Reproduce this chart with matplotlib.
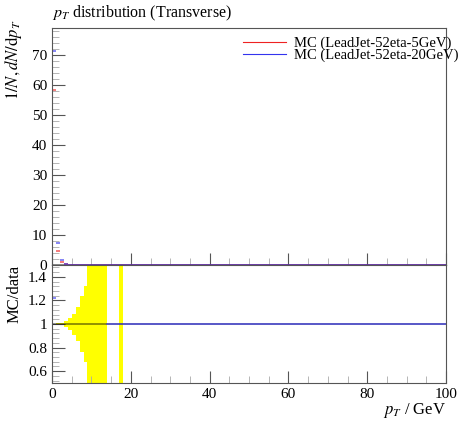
import numpy as np
import matplotlib
matplotlib.use('Agg')
import matplotlib.pyplot as plt
from matplotlib.ticker import MultipleLocator

plt.rcParams['font.family'] = ['Liberation Serif', 'DejaVu Serif']
plt.rcParams['mathtext.fontset'] = 'stix'

# pT bins, 1 GeV wide
bin_edges = np.arange(0, 101, 1)

# MC distributions (non-zero bins only, rest is ~0)
mc_5gev = [58.5, 4.6, 1.0, 0.3, 0.05]
mc_20gev = [71.5, 7.2, 1.7, 0.4, 0.05]

# ratio panel: data error band half-widths per bin (None = no data)
band_halfwidth = [0.003, 0.006, 0.012, 0.022, 0.047, 0.089, 0.144, 0.236, 0.325,
                  1.0, 1.0, 1.0, 1.0, 1.0, None, None, None, 1.0]
# blue MC / ref ratio in first bin
ratio_20gev = [1.22]

fig = plt.figure(figsize=(4.61, 4.22), dpi=100)
ax = fig.add_axes([0.1128, 0.372, 0.8547, 0.5616])
rax = fig.add_axes([0.1128, 0.0924, 0.8547, 0.2796], sharex=ax)

red = '#ee2222'
blue = '#3333ee'

# main panel
n = len(bin_edges) - 1
red_vals = np.zeros(n)
red_vals[:len(mc_5gev)] = mc_5gev
blue_vals = np.zeros(n)
blue_vals[:len(mc_20gev)] = mc_20gev
ax.axhline(0, color='black', alpha=0.5, lw=1.2)
ax.hlines(red_vals, bin_edges[:-1], bin_edges[1:], color=red, lw=1.2, alpha=0.7)
ax.hlines(blue_vals, bin_edges[:-1], bin_edges[1:], color=blue, lw=1.2, alpha=0.7)
ax.plot([], [], color=red, lw=0.8, label='MC (LeadJet-52eta-5GeV)')
ax.plot([], [], color=blue, lw=0.8, label='MC (LeadJet-52eta-20GeV)')

ax.set_xlim(0, 100)
ax.set_ylim(0, 79)
ax.yaxis.set_major_locator(MultipleLocator(10))
ax.yaxis.set_minor_locator(MultipleLocator(2))
ax.set_ylabel(r'$1/N, dN/\mathrm{d}p_T$', fontsize=12, loc='top')
ax.yaxis.set_label_coords(-0.07, 1.035)
ax.tick_params(labelbottom=False)
fig.text(0.1128, 0.958, r'$p_T$ distribution (Transverse)', fontsize=11.5, ha='left', va='baseline')
ax.legend(loc='upper right', frameon=False, fontsize=10.5, handlelength=2.9,
          borderaxespad=0.2, handletextpad=0.6, labelspacing=-0.1,
          bbox_to_anchor=(1.055, 1.0))

# ratio panel
for i, hw in enumerate(band_halfwidth):
    if hw is None:
        continue
    rax.fill_between([bin_edges[i], bin_edges[i + 1]], 1 - hw, 1 + hw,
                     color='yellow', lw=0)
rax.axhline(1, color='black', alpha=0.5, lw=1.2)
rax.plot([14, 100], [1, 1], color=blue, lw=1.2, alpha=0.7)
rax.hlines(ratio_20gev, bin_edges[:1], bin_edges[1:2], color=blue, lw=1.2, alpha=0.7)
rax.set_ylim(0.5, 1.5)
rax.yaxis.set_minor_locator(MultipleLocator(0.04))
rax.xaxis.set_major_locator(MultipleLocator(20))
rax.xaxis.set_minor_locator(MultipleLocator(5))
rax.set_yticks([0.6, 0.8, 1.0, 1.2, 1.4])
rax.set_yticklabels(['0.6', '0.8', '1', '1.2', '1.4'])
rax.set_ylabel('MC/data', fontsize=12, loc='top')
rax.set_xlabel(r'$p_T$ / GeV', fontsize=12, loc='right', labelpad=0)

for a in (ax, rax):
    a.tick_params(which='both', direction='in', top=False, right=False, labelsize=11,
                  color='#555555')
    a.tick_params(which='major', length=9)
    a.tick_params(which='minor', length=5, color='#aaaaaa')
    for s in a.spines.values():
        s.set_color('#555555')

fig.savefig('out.png', dpi=100)
